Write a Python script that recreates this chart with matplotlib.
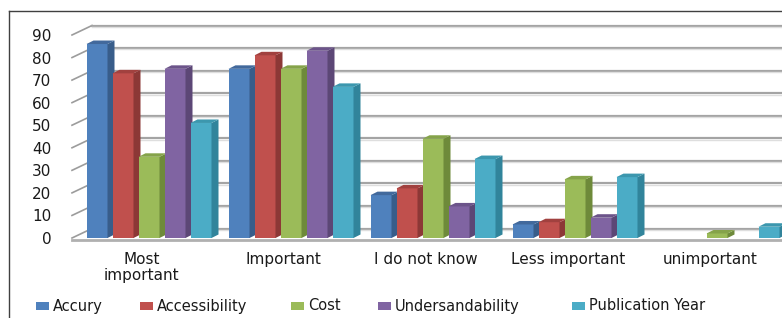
import numpy as np
import matplotlib.pyplot as plt
from matplotlib.patches import Polygon, Rectangle
from matplotlib.lines import Line2D

categories = ["Most\nimportant", "Important", "I do not know", "Less important", "unimportant"]
series_names = ["Accury", "Accessibility", "Cost", "Undersandability", "Publication Year"]

accury = [86, 75, 19, 6, 0]
accessibility = [73, 81, 22, 7, 0]
cost = [36, 75, 44, 26, 2]
undersandability = [75, 83, 14, 9, 0]
publication_year = [51, 67, 35, 27, 5]

series = [accury, accessibility, cost, undersandability, publication_year]

front = ["#4F81BD", "#C0504D", "#9BBB59", "#8064A2", "#4BACC6"]
side = ["#385D8A", "#8C3836", "#6E8A3A", "#5C4776", "#31849B"]
top = ["#42699C", "#A1413F", "#85A34A", "#6C548A", "#3C97AE"]

W, H = 782, 318
fig = plt.figure(figsize=(W / 100, H / 100), dpi=100)
plt.rcParams['font.family'] = ['DejaVu Sans']

# front plane of the 3d box, in pixels
ax_left, ax_bottom, ax_w, ax_h = 72, 80, 710, 203
ax = fig.add_axes([ax_left / W, ax_bottom / H, ax_w / W, ax_h / H])
group_px = 142
x0 = -(149 - ax_left) / group_px
x1 = x0 + ax_w / group_px
ax.set_xlim(x0, x1)
ax.set_ylim(0, 90)
for s in ax.spines.values():
    s.set_visible(False)
ax.patch.set_alpha(0)

px_x = 1.0 / group_px          # data units per pixel
px_y = 90.0 / ax_h

bar_w = 21 * px_x
step = 26 * px_x
dx, dy = 7 * px_x, 3.5 * px_y      # bar depth
wx, wy = 20 * px_x, 9.5 * px_y     # back wall offset

# walls: side diagonals + back gridlines
for v in range(0, 100, 10):
    ax.plot([x0, x0 + wx], [v, v + wy], color="#9c9c9c", lw=1.2, zorder=1, clip_on=False)
    ax.plot([x0 + wx, x1], [v + wy, v + wy], color="#a4a4a4", lw=1.6, zorder=1, clip_on=False)
    ax.plot([x0 + wx, x1], [v + wy - 0.6, v + wy - 0.6], color="#dedede", lw=1.0, zorder=1, clip_on=False)
# floor front edge
ax.plot([x0, x1], [-1.0, -1.0], color="#b0b0b0", lw=2.0, zorder=1, clip_on=False)

idx = np.arange(len(categories))
for j, vals in enumerate(series):
    xs = idx + (j - 2) * step
    ax.bar(xs, vals, width=bar_w, color=front[j], zorder=3, linewidth=0)
    for x, v in zip(xs, vals):
        if v <= 0:
            continue
        r = x + bar_w / 2
        l = x - bar_w / 2
        ax.add_patch(Polygon([(r, 0), (r + dx, dy), (r + dx, v + dy), (r, v)],
                             closed=True, color=side[j], lw=0, zorder=3))
        ax.add_patch(Polygon([(l, v), (r, v), (r + dx, v + dy), (l + dx, v + dy)],
                             closed=True, color=top[j], lw=0, zorder=3))

ax.set_yticks(range(0, 100, 10))
ax.set_xticks(idx - 0.05)
ax.set_xticklabels(categories, linespacing=1.1)
ax.tick_params(axis="y", length=0, pad=15, labelsize=11, labelcolor="#1a1a1a")
ax.tick_params(axis="x", length=0, pad=10, labelsize=11, labelcolor="#1a1a1a")

# chart border (right and bottom edges fall outside the picture)
fig.add_artist(Line2D([9 / W, 9 / W], [0, 1 - 11 / H], color="#404040", lw=1.0))
fig.add_artist(Line2D([9 / W, 1], [1 - 11 / H, 1 - 11 / H], color="#404040", lw=1.0))

# legend, laid out by hand like the original
legend_x = [53, 157, 308, 395, 589]
legend_y = 306
for name, c, lx in zip(series_names, front, legend_x):
    fig.add_artist(Rectangle(((lx - 17) / W, 1 - (legend_y + 4) / H), 13 / W, 8 / H,
                             transform=fig.transFigure, color=c, lw=0))
    fig.text(lx / W, 1 - legend_y / H, name, fontsize=10.5, color="#1a1a1a",
             ha="left", va="center")

fig.savefig("out.png", dpi=100)
